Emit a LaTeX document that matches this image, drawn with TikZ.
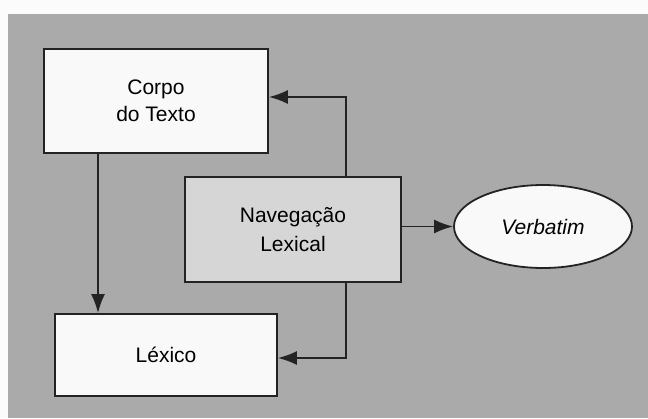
\documentclass[tikz,border=0pt]{standalone}
\usepackage{fontspec}
\setmainfont{Liberation Sans}
\usetikzlibrary{arrows.meta,shapes.geometric}
\definecolor{panelgray}{RGB}{170,170,170}
\definecolor{navgray}{RGB}{214,214,214}
\definecolor{boxwhite}{RGB}{249,249,249}
\definecolor{inkline}{RGB}{35,35,35}
\begin{document}
\begin{tikzpicture}[x=1pt,y=-1pt,
  box/.style={draw=inkline,line width=1.8pt,fill=boxwhite,align=center,
    font=\fontsize{21}{27}\selectfont,inner sep=0pt},
  navbox/.style={box,fill=navgray},
  oval/.style={ellipse,draw=inkline,line width=1.8pt,fill=boxwhite,
    font=\fontsize{21}{27}\selectfont\itshape,inner sep=0pt},
  conn/.style={draw=inkline,line width=1.8pt,-{Latex[length=19pt,width=14pt]}}]
\useasboundingbox (0,0) rectangle (648,418);
\fill[white!97!gray] (0,0) rectangle (648,418);
\fill[panelgray] (8,14) rectangle (648,418);
\node[box,minimum width=224pt,minimum height=104pt] (corpo) at (156,101) {Corpo\\do Texto};
\node[box,minimum width=222pt,minimum height=82pt] (lexico) at (166,355) {Léxico};
\node[navbox,minimum width=216pt,minimum height=105pt,font=\fontsize{21}{29}\selectfont] (nav) at (293,229.5) {Navegação\\Lexical};
\node[oval,minimum width=178pt,minimum height=83pt] (verb) at (543,226.5) {Verbatim};
\coordinate (nt) at (346,97);
\coordinate (nb) at (346,358);
\draw[conn] (nav.north -| nt) -- (nt) -- (corpo.east |- nt);
\draw[conn] (nav.south -| nb) -- (nb) -- (lexico.east |- nb);
\draw[conn] (corpo.south -| 98,0) -- (lexico.north -| 98,0);
\draw[conn] (nav.east |- verb) -- (verb.west);
\end{tikzpicture}
\end{document}
